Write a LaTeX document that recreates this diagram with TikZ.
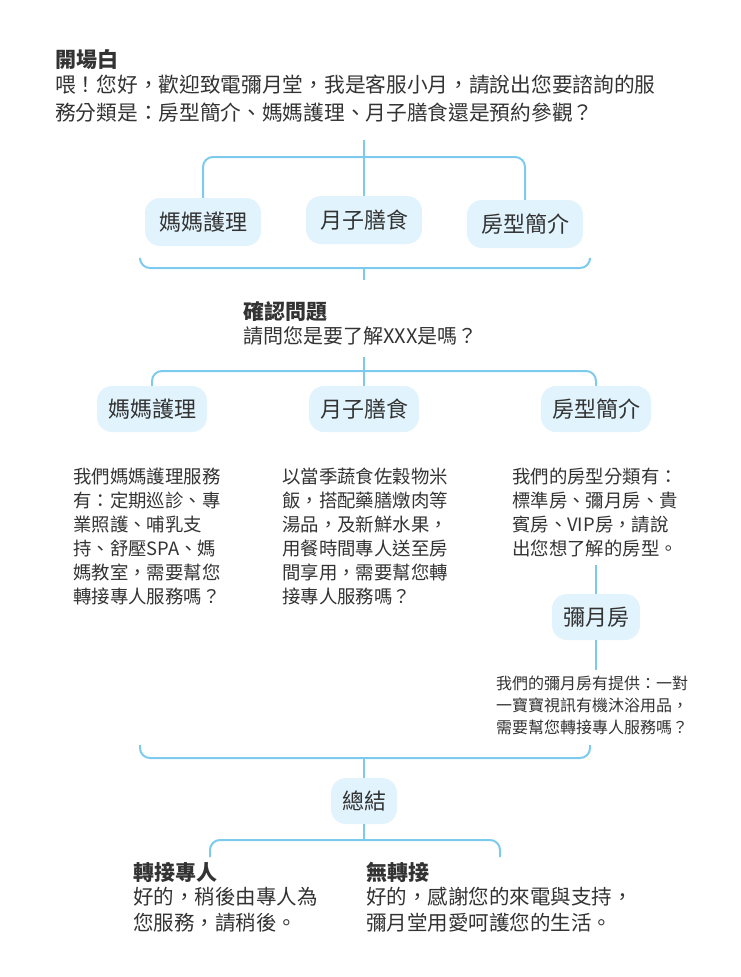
\documentclass[tikz,border=0pt]{standalone}
\usepackage{fontspec}
\setmainfont{Noto Sans CJK TC}
\definecolor{lnc}{HTML}{7CCAEE}
\definecolor{bxc}{HTML}{E1F3FC}
\definecolor{tc}{HTML}{333333}
\begin{document}
\begin{tikzpicture}[x=1pt,y=-1pt,
  ln/.style={draw=lnc, line width=2pt, rounded corners=10pt},
  bx/.style={fill=bxc, rounded corners=15pt, text=tc, font=\fontsize{22}{24}\selectfont, minimum height=48pt, inner xsep=14pt},
  hd/.style={anchor=west, font=\fontsize{21}{24}\selectfont\bfseries, text=tc, inner sep=0pt},
  tx/.style={anchor=north west, align=left, text=tc, font=\fontsize{18.4}{24}\selectfont, inner sep=0pt},
  sx/.style={anchor=north west, align=left, text=tc, font=\fontsize{16}{22}\selectfont, inner sep=0pt}]
\useasboundingbox (0,0) rectangle (740,977);
\node[hd] (h1) at (55,60) {開場白};
\node[tx,font=\fontsize{20.7}{28}\selectfont] (t1) at (55,75) {喂！您好，歡迎致電彌月堂，我是客服小月，請說出您要諮詢的服\\務分類是：房型簡介、媽媽護理、月子膳食還是預約參觀？};
\node[bx] (a1) at (203,222) {媽媽護理};
\node[bx] (a2) at (364,220) {月子膳食};
\node[bx] (a3) at (525,224) {房型簡介};
\coordinate (c1) at (364,140);
\draw[ln] (c1) -- (a2.north);
\draw[ln] (a1.north) |- (364,157) -| (a3.north);
\draw[ln] (140,260) |- (364,268) -| (590,260);
\draw[ln,rounded corners=0pt] (364,268) -- (364,280);
\node[hd] (h2) at (243,312) {確認問題};
\node[tx,font=\fontsize{20}{22}\selectfont] (t2) at (243,326) {請問您是要了解XXX是嗎？};
\node[bx,minimum height=46pt,inner xsep=11pt] (b1) at (152,409) {媽媽護理};
\node[bx,minimum height=46pt,inner xsep=11pt] (b2) at (364,409) {月子膳食};
\node[bx,minimum height=46pt,inner xsep=11pt] (b3) at (596,409) {房型簡介};
\coordinate (c2) at (364,357);
\draw[ln] (c2) -- (b2.north);
\draw[ln] (b1.north) |- (364,371) -| (b3.north);
\node[tx] (d1) at (73,468) {我們媽媽護理服務\\有：定期巡診、專\\業照護、哺乳支\\持、舒壓SPA、媽\\媽教室，需要幫您\\轉接專人服務嗎？};
\node[tx] (d2) at (282,468) {以當季蔬食佐穀物米\\飯，搭配藥膳燉肉等\\湯品，及新鮮水果，\\用餐時間專人送至房\\間享用，需要幫您轉\\接專人服務嗎？};
\node[tx] (d3) at (512,468) {我們的房型分類有：\\標準房、彌月房、貴\\賓房、VIP房，請說\\出您想了解的房型。};
\node[bx,minimum height=46pt,inner xsep=11pt] (e1) at (596,617) {彌月房};
\draw[ln] (596,565) -- (e1.north);
\node[sx] (f1) at (496,676) {我們的彌月房有提供：一對\\一寶寶視訊有機沐浴用品，\\需要幫您轉接專人服務嗎？};
\draw[ln] (e1.south) -- (596,670);
\draw[ln] (140,745) |- (364,758) -| (590,745);
\node[bx,minimum height=46pt,inner xsep=11pt] (g) at (364,801) {總結};
\draw[ln,rounded corners=0pt] (364,758) -- (g.north);
\draw[ln] (g.south) -- (364,840);
\draw[ln] (210,857) |- (364,840) -| (500,857);
\node[hd] (h3) at (133,872) {轉接專人};
\node[tx,font=\fontsize{20.5}{26}\selectfont] (t3) at (133,887) {好的，稍後由專人為\\您服務，請稍後。};
\node[hd] (h4) at (366,872) {無轉接};
\node[tx,font=\fontsize{20.5}{26}\selectfont] (t4) at (366,887) {好的，感謝您的來電與支持，\\彌月堂用愛呵護您的生活。};
\end{tikzpicture}
\end{document}
